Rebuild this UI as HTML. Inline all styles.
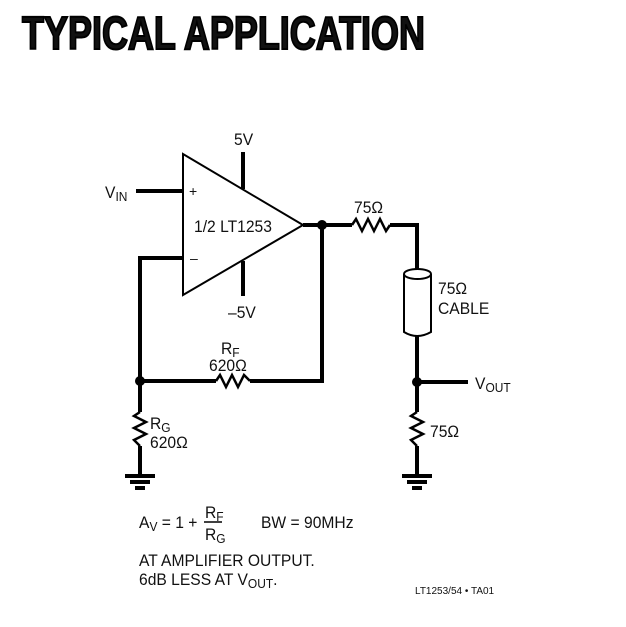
<!DOCTYPE html>
<html><head><meta charset="utf-8"><style>
html,body{margin:0;padding:0;background:#fff;}
svg{display:block;}
text{font-family:"Liberation Sans",sans-serif;fill:#111;}
</style></head><body>
<svg width="626" height="627" viewBox="0 0 626 627" xmlns="http://www.w3.org/2000/svg">
<text x="22" y="49" font-weight="bold" font-size="46" textLength="403" lengthAdjust="spacingAndGlyphs" style="stroke:#000;stroke-width:2">TYPICAL APPLICATION</text>
<g stroke="#000" stroke-width="4" fill="none" stroke-linejoin="miter">
<polygon points="183,154 183,295 303,225" stroke-width="2"/>
<line x1="136" y1="191" x2="183" y2="191"/>
<polyline points="183,258 140,258 140,412"/>
<line x1="243" y1="152" x2="243" y2="189"/>
<line x1="243" y1="261" x2="243" y2="296"/>
<polyline points="303,225 322,225 322,381 250,381"/>
<polyline points="216,381 140,381"/>
<polyline points="216,381 220,375 226,387 232,375 238,387 244,375 250,381" stroke-width="2.5"/>
<polyline points="322,225 352,225"/>
<polyline points="352,225 356,219 362,231 368,219 374,231 380,219 386,231 390,225" stroke-width="2.5"/>
<polyline points="390,225 417,225 417,272"/>
<line x1="417" y1="335" x2="417" y2="412"/>
<line x1="417" y1="382" x2="468" y2="382"/>
<polyline points="417,412 411,416 423,422 411,428 423,434 411,440 417,446" stroke-width="2.5"/>
<line x1="417" y1="446" x2="417" y2="476"/>
<polyline points="140,412 134,416 146,422 134,428 146,434 134,440 140,446" stroke-width="2.5"/>
<line x1="140" y1="446" x2="140" y2="476"/>
<line x1="125" y1="476" x2="155" y2="476"/>
<line x1="130" y1="482" x2="150" y2="482"/>
<line x1="135" y1="488" x2="145" y2="488"/>
<line x1="402" y1="476" x2="432" y2="476"/>
<line x1="407" y1="482" x2="427" y2="482"/>
<line x1="412" y1="488" x2="422" y2="488"/>
</g>
<path d="M404,274 L404,332 Q417,340 431,332 L431,274" fill="#fff" stroke="#000" stroke-width="2"/>
<ellipse cx="417.5" cy="274" rx="13.5" ry="5" fill="#fff" stroke="#000" stroke-width="2"/>
<g fill="#000">
<circle cx="322" cy="225" r="5"/>
<circle cx="140" cy="381" r="5"/>
<circle cx="417" cy="382" r="5"/>
</g>
<g font-size="17">
<g transform="translate(105,198) scale(0.92,1)"><text>V<tspan font-size="13" dy="3">IN</tspan></text></g>
<text x="189" y="196" font-size="14">+</text>
<text x="190" y="263" font-size="14">–</text>
<g transform="translate(194,232) scale(0.92,1)"><text>1/2 LT1253</text></g>
<g transform="translate(234,145) scale(0.92,1)"><text>5V</text></g>
<g transform="translate(228,318) scale(0.92,1)"><text>–5V</text></g>
<g transform="translate(221,354) scale(0.92,1)"><text>R<tspan font-size="13" dy="3">F</tspan></text></g>
<g transform="translate(209,371) scale(0.92,1)"><text>620Ω</text></g>
<g transform="translate(354,213) scale(0.92,1)"><text>75Ω</text></g>
<g transform="translate(438,294) scale(0.92,1)"><text>75Ω</text></g>
<g transform="translate(438,314) scale(0.92,1)"><text>CABLE</text></g>
<g transform="translate(475,389) scale(0.92,1)"><text>V<tspan font-size="13" dy="3">OUT</tspan></text></g>
<g transform="translate(430,437) scale(0.92,1)"><text>75Ω</text></g>
<g transform="translate(150,429) scale(0.92,1)"><text>R<tspan font-size="13" dy="3">G</tspan></text></g>
<g transform="translate(150,448) scale(0.92,1)"><text>620Ω</text></g>
<g transform="translate(139,528) scale(0.92,1)"><text>A<tspan font-size="13" dy="3">V</tspan><tspan dy="-3"> = 1 +</tspan></text></g>
<g transform="translate(205,518) scale(0.92,1)"><text>R<tspan font-size="13" dy="3">F</tspan></text></g>
<line x1="204" y1="522" x2="222" y2="522" stroke="#000" stroke-width="1.5"/>
<g transform="translate(205,540) scale(0.92,1)"><text>R<tspan font-size="13" dy="3">G</tspan></text></g>
<g transform="translate(261,528) scale(0.92,1)"><text>BW = 90MHz</text></g>
<g transform="translate(139,566) scale(0.92,1)"><text>AT AMPLIFIER OUTPUT.</text></g>
<g transform="translate(139,585) scale(0.92,1)"><text>6dB LESS AT V<tspan font-size="13" dy="3">OUT</tspan><tspan dy="-3">.</tspan></text></g>
</g>
<text x="415" y="594" font-size="10">LT1253/54 • TA01</text>
</svg>
</body></html>
